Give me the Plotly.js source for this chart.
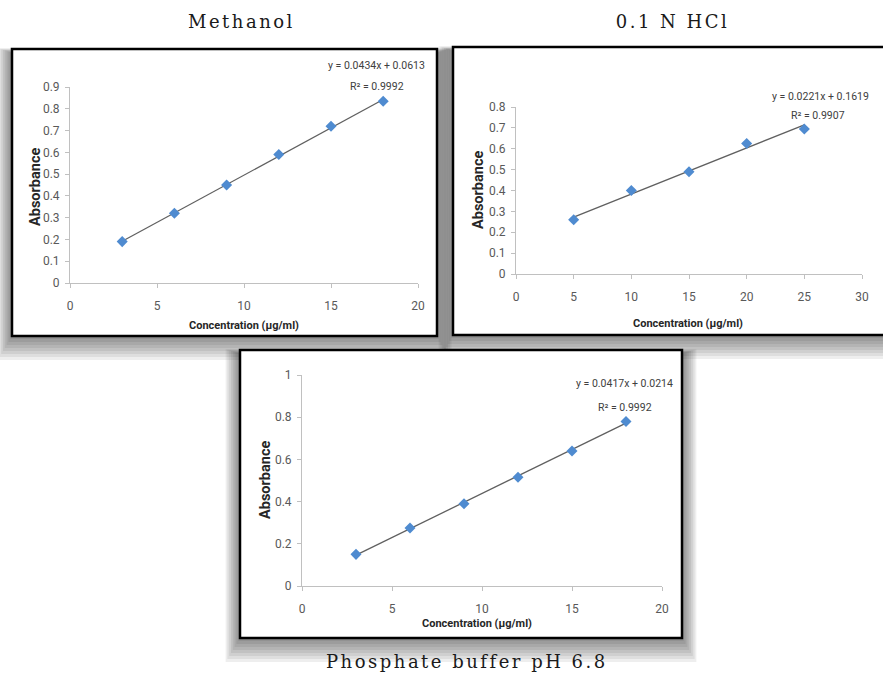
<!DOCTYPE html>
<html>
<head>
<meta charset="utf-8">
<script src="https://cdn.plot.ly/plotly-3.0.1.min.js"></script>
<style>html,body{margin:0;padding:0;background:#fff;}#chart{width:883px;height:673px;}</style>
</head>
<body>
<div id="chart"></div>
<script>
// ---- Data ----
const panelTitles = ["Methanol", "0.1 N HCl", "Phosphate buffer pH 6.8"];
const methanolConc = [3, 6, 9, 12, 15, 18];
const methanolAbs = [0.19, 0.32, 0.45, 0.59, 0.72, 0.835];
const hclConc = [5, 10, 15, 20, 25];
const hclAbs = [0.26, 0.40, 0.49, 0.625, 0.695];
const phosConc = [3, 6, 9, 12, 15, 18];
const phosAbs = [0.15, 0.275, 0.39, 0.515, 0.64, 0.78];
const slopes = [0.0434, 0.0221, 0.0417];
const intercepts = [0.0613, 0.1619, 0.0214];
const equations = ["y = 0.0434x + 0.0613", "y = 0.0221x + 0.1619", "y = 0.0417x + 0.0214"];
const r2Labels = ["R\u00b2 = 0.9992", "R\u00b2 = 0.9907", "R\u00b2 = 0.9992"];
const xTitle = "Concentration (\u00b5g/ml)";
const yTitle = "Absorbance";

// ---- Helpers ----
const W = 883, H = 673;
const px = v => v / W;
const py = v => 1 - v / H;
const narrow = "'Liberation Sans Narrow', 'Arial Narrow', Roboto, sans-serif";
const serif = "'DejaVu Serif', 'Liberation Serif', serif";

const xs = [methanolConc, hclConc, phosConc];
const ys = [methanolAbs, hclAbs, phosAbs];
const axSuffix = ["", "2", "3"];

const traces = [];
for (let i = 0; i < 3; i++) {
  const xmin = Math.min(...xs[i]), xmax = Math.max(...xs[i]);
  traces.push({
    x: [xmin, xmax],
    y: [slopes[i] * xmin + intercepts[i], slopes[i] * xmax + intercepts[i]],
    mode: "lines", line: {color: "#606060", width: 1.3},
    xaxis: "x" + axSuffix[i], yaxis: "y" + axSuffix[i], showlegend: false, hoverinfo: "skip"
  });
  traces.push({
    x: xs[i], y: ys[i], mode: "markers",
    marker: {symbol: "diamond", size: 8.5, color: "#4f8bd0", line: {width: 0}},
    xaxis: "x" + axSuffix[i], yaxis: "y" + axSuffix[i], showlegend: false
  });
}

function axis(domain, range, dtick, anchor) {
  return {
    domain: domain, range: range, dtick: dtick, tick0: 0, anchor: anchor,
    showgrid: false, zeroline: false, showline: true, linecolor: "#c0c0c0", linewidth: 1,
    ticks: "outside", ticklen: 4, tickcolor: "#c0c0c0", tickwidth: 1,
    tickfont: {family: narrow, size: 12, color: "#595959"}, fixedrange: true
  };
}

const layout = {
  width: W, height: H, autosize: false,
  margin: {l: 0, r: 0, t: 0, b: 0},
  paper_bgcolor: "#ffffff", plot_bgcolor: "rgba(0,0,0,0)",
  showlegend: false,
  xaxis: Object.assign(axis([px(70), px(418)], [0, 20], 5, "y"), {ticklabelstandoff: 8}),
  yaxis: Object.assign(axis([py(283), py(87)], [0, 0.9], 0.1, "x"), {ticklabelstandoff: 3}),
  xaxis2: Object.assign(axis([px(516), px(862)], [0, 30], 5, "y2"), {ticklabelstandoff: 8}),
  yaxis2: Object.assign(axis([py(274), py(107)], [0, 0.8], 0.1, "x2"), {ticklabelstandoff: 3}),
  xaxis3: Object.assign(axis([px(302), px(662)], [0, 20], 5, "y3"), {ticklabelstandoff: 8}),
  yaxis3: Object.assign(axis([py(586), py(375)], [0, 1], 0.2, "x3"), {ticklabelstandoff: 3}),
  shapes: [], annotations: []
};

// Panel boxes with soft shadows
const boxes = [[12, 49, 437, 336], [453, 47, 895, 335], [240, 350, 682, 638]];
boxes.forEach(b => {
  for (let k = 8; k >= 1; k--) {
    layout.shapes.push({
      type: "rect", xref: "paper", yref: "paper", layer: "below",
      x0: px(b[0] - k * 1.8), x1: px(b[2] + k * 1.8),
      y0: py(b[1] - k * 0.6 + 4), y1: py(b[3] + k * 3),
      fillcolor: "rgba(0,0,0,0.065)", line: {width: 0}
    });
  }
});
boxes.forEach(b => {
  layout.shapes.push({
    type: "rect", xref: "paper", yref: "paper", layer: "below",
    x0: px(b[0]), x1: px(b[2]), y0: py(b[1]), y1: py(b[3]),
    fillcolor: "#ffffff", line: {color: "#000000", width: 2.5}
  });
});

function ann(text, x, y, font, extra) {
  layout.annotations.push(Object.assign({
    text: text, xref: "paper", yref: "paper", x: px(x), y: py(y),
    xanchor: "center", yanchor: "middle", showarrow: false, font: font
  }, extra || {}));
}

// Panel titles
const titleFont = {family: serif, size: 18, color: "#1a1a1a"};
ann(panelTitles[0], 241, 22, titleFont);
ann(panelTitles[1], 672, 22, titleFont);
ann(panelTitles[2], 467, 661, titleFont);

// Equations
const eqFont = {family: narrow, size: 10.5, color: "#404040"};
const eqPos = [[376, 65, 377, 86], [820, 97, 818, 115], [624, 383, 625, 407]];
for (let i = 0; i < 3; i++) {
  ann(equations[i], eqPos[i][0], eqPos[i][1], eqFont);
  ann(r2Labels[i], eqPos[i][2], eqPos[i][3], eqFont);
}

// Axis titles
const axFont = {family: narrow, size: 11, color: "#262626"};
const ayFont = {family: narrow, size: 14.5, color: "#262626"};
const xtPos = [[244, 325], [688, 323], [477, 623]];
const ytPos = [[35, 187], [478, 190], [265, 480]];
for (let i = 0; i < 3; i++) {
  ann("<b>" + xTitle + "</b>", xtPos[i][0], xtPos[i][1], axFont);
  ann("<b>" + yTitle + "</b>", ytPos[i][0], ytPos[i][1], ayFont, {textangle: -90});
}

Plotly.newPlot("chart", traces, layout, {staticPlot: true}).then(() => {
  document.querySelectorAll(".annotation-text").forEach(t => {
    if (panelTitles.indexOf(t.textContent) >= 0) {
      t.style.letterSpacing = "2.5px";
    }
  });
});
</script>
</body>
</html>
